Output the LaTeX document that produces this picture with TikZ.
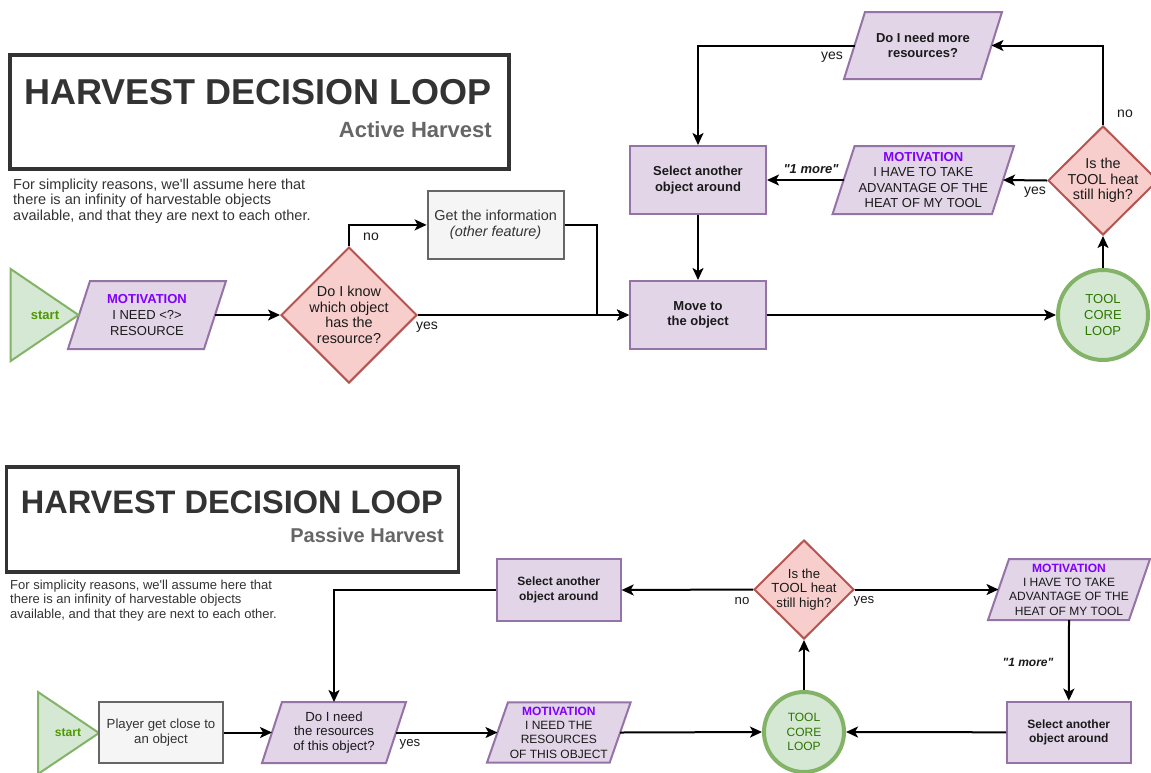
\documentclass[tikz,border=0pt]{standalone}
\usepackage{fontspec}
\setmainfont{Liberation Sans}
\usetikzlibrary{shapes.geometric,arrows.meta,backgrounds}
\definecolor{pfill}{HTML}{E1D5E7}
\definecolor{pdraw}{HTML}{9673A6}
\definecolor{rfill}{HTML}{F8CECC}
\definecolor{rdraw}{HTML}{B85450}
\definecolor{gfill}{HTML}{D5E8D4}
\definecolor{gdraw}{HTML}{82B366}
\definecolor{grfill}{HTML}{F5F5F5}
\definecolor{grdraw}{HTML}{666666}
\definecolor{motivc}{HTML}{7F00FF}
\definecolor{starttxt}{HTML}{4D9900}
\definecolor{coretxt}{HTML}{2D7600}
\definecolor{txt}{HTML}{1A1A1A}
\definecolor{desc}{HTML}{333333}
\definecolor{subc}{HTML}{666666}
\newcommand{\myA}{\fontsize{13}{15.6}\selectfont}
\newcommand{\myB}{\fontsize{12}{14.3}\selectfont}
\newcommand{\myAl}{\fontsize{14.4}{15.6}\selectfont}
\newcommand{\myBl}{\fontsize{13.2}{14.3}\selectfont}
\newcommand{\motivword}{\textcolor{motivc}{\textbf{MOTIVATION}}}
\newcommand{\qq}{\XeTeXglyph\XeTeXcharglyph"22\relax}
\newcommand{\ap}{\XeTeXglyph\XeTeXcharglyph"27\relax}
\tikzset{
  pbox/.style={rectangle, draw=pdraw, fill=pfill, line width=2pt, inner sep=1pt, align=center, text=txt},
  gbox/.style={rectangle, draw=grdraw, fill=grfill, line width=2pt, inner sep=1pt, align=center, text=desc},
  pnode/.style={rectangle, inner sep=0pt, outer sep=0pt, align=center, text=txt},
  pshape/.style={draw=pdraw, fill=pfill, line width=2pt, line join=miter},
  dia/.style={diamond, draw=rdraw, fill=rfill, line width=2pt, inner sep=0pt},
  dtxt/.style={align=center, text=txt, inner sep=0pt},
  core/.style={circle, draw=gdraw, fill=gfill, line width=4pt, align=center, text=coretxt, inner sep=0pt},
  tri/.style={draw=gdraw, fill=gfill, line width=2pt, line join=miter},
  starttext/.style={inner sep=0pt, text=starttxt, font=\bfseries},
  conn/.style={line width=2pt, -{Stealth[length=12pt,width=11pt,inset=3pt]}},
  lbl/.style={inner sep=0pt, text=txt},
  titlebox/.style={rectangle, draw=desc, line width=3.5pt, fill=white},
  titletxt/.style={inner sep=0pt, text=desc, font=\bfseries},
  subtxt/.style={inner sep=0pt, text=subc, font=\bfseries},
  desctxt/.style={inner sep=0pt, text=desc, align=left},
}
\begin{document}
\begin{tikzpicture}[x=1pt,y=-1pt]
\useasboundingbox (0,0) rectangle (1151,772);

% ================= TOP : Active Harvest =================
\node[titlebox, minimum width=499, minimum height=114] (t1) at (259.5,112) {};
\node[titletxt, font=\fontsize{36}{40}\selectfont\bfseries, anchor=base east] (t1a) at (492,104) {HARVEST DECISION LOOP};
\node[subtxt, font=\fontsize{22}{26}\selectfont\bfseries, anchor=base east] (t1b) at (492,137) {Active Harvest};
\node[desctxt, font=\fontsize{14.5}{15.5}\selectfont, anchor=north west] (desc1) at (13,178.5)
  {For simplicity reasons, we\ap ll assume here that\\there is an infinity of harvestable objects\\available, and that they are next to each other.};

\node[starttext, font=\myA\bfseries] (s1) at (45,315) {start};
\node[pnode, font=\myA, minimum width=136, minimum height=68] (m1) at (147,315)
  {\motivword\\I NEED <?>\\RESOURCE};
\node[dia, minimum width=136, minimum height=136,
  label={[dtxt, font=\myAl]center:{Do I know\\which object\\has the\\resource?}}] (d1) at (349,315) {};
\node[gbox, font=\myAl, minimum width=136, minimum height=68] (info) at (495.6,224.9)
  {Get the information\\\textit{(other feature)}};
\node[pbox, font=\myA\bfseries, minimum width=136, minimum height=68] (move) at (698,315) {Move to\\the object};
\node[pbox, font=\myA\bfseries, minimum width=136, minimum height=68] (sel1) at (698,180) {Select another\\object around};
\node[pnode, font=\myA\bfseries, minimum width=137, minimum height=67] (more) at (923,45.5) {Do I need more\\resources?};
\node[pnode, font=\myA, minimum width=159.4, minimum height=68] (m2) at (923.3,180)
  {\motivword\\I HAVE TO TAKE\\ADVANTAGE OF THE\\HEAT OF MY TOOL};
\node[dia, minimum width=110, minimum height=109,
  label={[dtxt, font=\myAl]center:{Is the\\TOOL heat\\still high?}}] (d2) at (1103,180.5) {};
\node[core, font=\myA, minimum size=90] (c1) at (1103,315) {TOOL\\CORE\\LOOP};
\coordinate (j1) at (597,315);

% ================= BOTTOM : Passive Harvest =================
\node[titlebox, minimum width=452, minimum height=105] (t2) at (232.7,519.5) {};
\node[titletxt, font=\fontsize{32.5}{36}\selectfont\bfseries, anchor=base east] (t2a) at (443,513) {HARVEST DECISION LOOP};
\node[subtxt, font=\fontsize{20}{24}\selectfont\bfseries, anchor=base east] (t2b) at (444,542) {Passive Harvest};
\node[desctxt, font=\fontsize{13}{14.3}\selectfont, anchor=north west] (desc2) at (10,580)
  {For simplicity reasons, we\ap ll assume here that\\there is an infinity of harvestable objects\\available, and that they are next to each other.};

\node[starttext, font=\myB\bfseries] (s2) at (68,733) {start};
\node[gbox, font=\myBl, minimum width=124, minimum height=61] (player) at (161,732.5) {Player get close to\\an object};
\node[pnode, font=\myBl, minimum width=124, minimum height=61] (ask) at (334,732.5) {Do I need\\the resources\\of this object?};
\node[pnode, font=\myB, minimum width=122.7, minimum height=60.4] (m3) at (558.8,732.5)
  {\motivword\\I NEED THE\\RESOURCES\\OF THIS OBJECT};
\node[core, font=\myB, minimum size=80] (c2) at (804,732) {TOOL\\CORE\\LOOP};
\node[pbox, font=\myB\bfseries, minimum width=123.6, minimum height=61.3] (sel2) at (1068.8,732.3) {Select another\\object around};
\node[pnode, font=\myB, minimum width=141, minimum height=61] (m4) at (1069,589.5)
  {\motivword\\I HAVE TO TAKE\\ADVANTAGE OF THE\\HEAT OF MY TOOL};
\node[dia, minimum width=100, minimum height=99,
  label={[dtxt, font=\myBl]center:{Is the\\TOOL heat\\still high?}}] (d3) at (804,589.5) {};
\node[pbox, font=\myB\bfseries, minimum width=123.7, minimum height=62] (selb) at (558.8,590) {Select another\\object around};

% ---------- shapes drawn behind ----------
\begin{scope}[on background layer]
  \fill[white] (0,0) rectangle (1151,772);
  \foreach \n/\s in {m1/22, more/21, m2/22, ask/20, m3/21, m4/21} {
    \filldraw[pshape] ([xshift=\s/2]\n.north west) -- ([xshift=\s/2]\n.north east)
      -- ([xshift=-\s/2]\n.south east) -- ([xshift=-\s/2]\n.south west) -- cycle;
  }
  \filldraw[tri] (10.7,269) -- (78.5,315) -- (10.7,361) -- cycle;
  \filldraw[tri] (38,692) -- (99,733) -- (38,774) -- cycle;
\end{scope}

% ---------- top connectors ----------
\draw[conn] (m1.east) -- (d1.west);
\draw[conn] (d1.north) |- (info.west);
\draw[conn] (info.east) -| (j1) -- (move.west);
\draw[conn] (d1.east) -- (move.west);
\draw[conn] (sel1.south) -- (move.north);
\draw[conn] (move.east) -- (c1.west);
\draw[conn] (c1.north) -- (d2.south);
\draw[conn] (d2.west) -- (m2.east);
\draw[conn] (m2.west) -- (sel1.east);
\draw[conn] (d2.north) |- (more.east);
\draw[conn] (more.west) -| (sel1.north);

\node[lbl, font=\fontsize{14}{16}\selectfont] (l1) at (371,237) {no};
\node[lbl, font=\fontsize{14}{16}\selectfont] (l2) at (427,327) {yes};
\node[lbl, font=\fontsize{14}{16}\selectfont] (l3) at (832,57) {yes};
\node[lbl, font=\fontsize{14}{16}\selectfont] (l4) at (1125,114) {no};
\node[lbl, font=\fontsize{14}{16}\selectfont] (l5) at (1035,192) {yes};
\node[lbl, font=\myA\bfseries\itshape] (l6) at (811,169) {\qq1 more\qq};

% ---------- bottom connectors ----------
\draw[conn] (player.east) -- (ask.west);
\draw[conn] (ask.east) -- (m3.west);
\draw[conn] (m3.east) -- (c2.west);
\draw[conn] (c2.north) -- (d3.south);
\draw[conn] (d3.west) -- (selb.east);
\draw[conn] (d3.east) -- (m4.west);
\draw[conn] (m4.south) -- (sel2.north);
\draw[conn] (sel2.west) -- (c2.east);
\draw[conn] (selb.west) -| (ask.north);

\node[lbl, font=\myBl] (l7) at (410,744) {yes};
\node[lbl, font=\myBl] (l8) at (742,601) {no};
\node[lbl, font=\myBl] (l9) at (864,601) {yes};
\node[lbl, font=\myB\bfseries\itshape] (l10) at (1028,662) {\qq1 more\qq};
\end{tikzpicture}
\end{document}
